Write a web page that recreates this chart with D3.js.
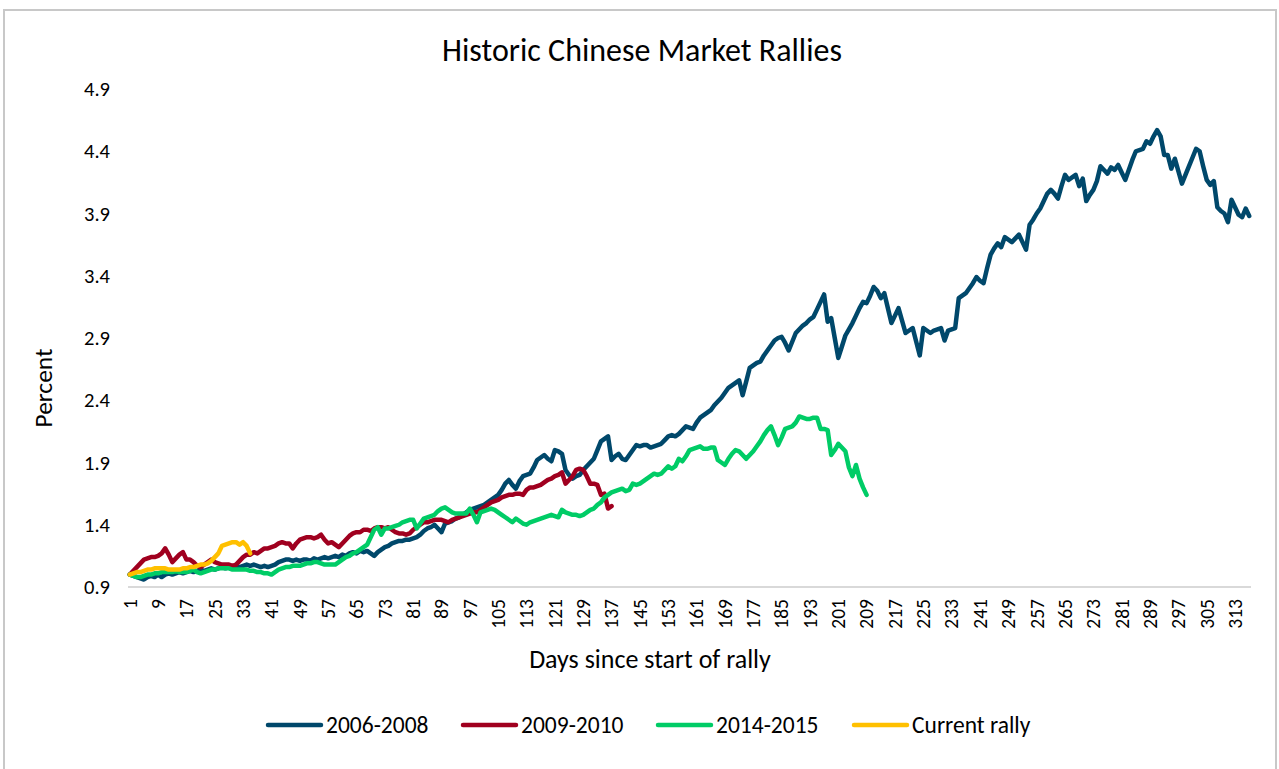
<!DOCTYPE html>
<html>
<head>
<meta charset="utf-8">
<script src="https://cdn.jsdelivr.net/npm/d3@7"></script>
<style>
body { margin: 0; background: #fff; }
text { font-family: Carlito, Calibri, "Noto Sans", sans-serif; fill: #000; }
</style>
</head>
<body>
<div id="chart-container"></div>
<script>
// values, one per trading day
var rally0608 = [
	1.00, 0.99, 0.98, 0.97, 0.96, 0.98, 0.99, 0.98, 1.00, 0.98,
	1.00, 1.01, 1.00, 1.01, 1.02, 1.01, 1.02, 1.03, 1.02, 1.03,
	1.04, 1.03, 1.04, 1.05, 1.04, 1.05, 1.06, 1.05, 1.06, 1.06,
	1.07, 1.06, 1.07, 1.08, 1.07, 1.08, 1.07, 1.06, 1.07, 1.06,
	1.07, 1.08, 1.10, 1.11, 1.12, 1.12, 1.11, 1.12, 1.11, 1.12,
	1.12, 1.11, 1.13, 1.12, 1.13, 1.14, 1.13, 1.14, 1.15, 1.14,
	1.16, 1.15, 1.17, 1.18, 1.17, 1.19, 1.18, 1.19, 1.17, 1.15,
	1.18, 1.20, 1.22, 1.23, 1.25, 1.26, 1.27, 1.27, 1.28, 1.28,
	1.29, 1.30, 1.32, 1.35, 1.37, 1.38, 1.40, 1.37, 1.34, 1.41,
	1.42, 1.43, 1.45, 1.46, 1.48, 1.50, 1.52, 1.53, 1.54, 1.55,
	1.56, 1.58, 1.60, 1.62, 1.64, 1.68, 1.73, 1.76, 1.72, 1.69,
	1.75, 1.79, 1.80, 1.81, 1.86, 1.92, 1.94, 1.96, 1.93, 1.91,
	2.00, 1.99, 1.97, 1.84, 1.80, 1.77, 1.79, 1.80, 1.84, 1.87,
	1.90, 1.93, 2.00, 2.07, 2.09, 2.11, 1.92, 1.95, 1.97, 1.93,
	1.92, 1.96, 2.00, 2.04, 2.03, 2.04, 2.04, 2.02, 2.03, 2.04,
	2.05, 2.08, 2.11, 2.12, 2.11, 2.13, 2.16, 2.19, 2.18, 2.17,
	2.22, 2.26, 2.28, 2.30, 2.32, 2.36, 2.39, 2.42, 2.46, 2.50,
	2.52, 2.54, 2.56, 2.44, 2.55, 2.66, 2.68, 2.70, 2.71, 2.76,
	2.80, 2.84, 2.88, 2.90, 2.91, 2.86, 2.80, 2.87, 2.94, 2.97,
	3.00, 3.02, 3.05, 3.07, 3.13, 3.19, 3.25, 3.03, 3.06, 2.90,
	2.74, 2.83, 2.92, 2.97, 3.02, 3.08, 3.14, 3.19, 3.18, 3.24,
	3.31, 3.28, 3.22, 3.26, 3.14, 3.02, 3.08, 3.14, 3.04, 2.94,
	2.96, 2.98, 2.87, 2.76, 2.98, 2.96, 2.94, 2.96, 2.97, 2.98,
	2.88, 2.96, 2.97, 2.98, 3.22, 3.24, 3.26, 3.30, 3.34, 3.39,
	3.36, 3.34, 3.46, 3.57, 3.62, 3.66, 3.63, 3.71, 3.69, 3.67,
	3.70, 3.73, 3.67, 3.61, 3.81, 3.85, 3.90, 3.94, 4.00, 4.06,
	4.09, 4.06, 4.02, 4.12, 4.21, 4.17, 4.19, 4.21, 4.12, 4.18,
	4.00, 4.05, 4.09, 4.16, 4.28, 4.25, 4.22, 4.27, 4.25, 4.29,
	4.23, 4.17, 4.25, 4.33, 4.40, 4.41, 4.42, 4.48, 4.46, 4.52,
	4.57, 4.52, 4.37, 4.37, 4.26, 4.34, 4.24, 4.14, 4.21, 4.28,
	4.35, 4.42, 4.40, 4.28, 4.17, 4.13, 4.16, 3.95, 3.92, 3.90,
	3.83, 4.01, 3.95, 3.89, 3.87, 3.94, 3.88
];

var rally0910 = [
	1.00, 1.03, 1.06, 1.09, 1.12, 1.13, 1.14, 1.14, 1.15, 1.17,
	1.21, 1.16, 1.10, 1.13, 1.16, 1.18, 1.12, 1.12, 1.10, 1.07,
	1.06, 1.08, 1.10, 1.12, 1.10, 1.09, 1.08, 1.08, 1.08, 1.07,
	1.08, 1.11, 1.14, 1.16, 1.16, 1.18, 1.17, 1.19, 1.21, 1.21,
	1.22, 1.23, 1.25, 1.26, 1.25, 1.25, 1.21, 1.25, 1.28, 1.29,
	1.30, 1.30, 1.29, 1.30, 1.32, 1.28, 1.25, 1.26, 1.24, 1.22,
	1.25, 1.28, 1.31, 1.33, 1.34, 1.34, 1.36, 1.36, 1.35, 1.37,
	1.38, 1.38, 1.37, 1.38, 1.36, 1.34, 1.33, 1.33, 1.32, 1.33,
	1.36, 1.38, 1.40, 1.42, 1.42, 1.43, 1.44, 1.44, 1.44, 1.43,
	1.42, 1.44, 1.45, 1.46, 1.47, 1.48, 1.49, 1.50, 1.50, 1.52,
	1.54, 1.56, 1.58, 1.59, 1.60, 1.62, 1.63, 1.64, 1.64, 1.65,
	1.65, 1.64, 1.68, 1.70, 1.70, 1.71, 1.72, 1.74, 1.76, 1.77,
	1.79, 1.80, 1.82, 1.73, 1.76, 1.79, 1.84, 1.85, 1.84, 1.79,
	1.73, 1.73, 1.72, 1.64, 1.65, 1.53, 1.55
];

var rally1415 = [
	1.00, 0.99, 0.98, 0.98, 0.99, 1.00, 1.00, 1.01, 1.01, 1.02,
	1.02, 1.02, 1.02, 1.03, 1.02, 1.02, 1.02, 1.03, 1.04, 1.02,
	1.01, 1.02, 1.03, 1.04, 1.04, 1.05, 1.05, 1.05, 1.05, 1.04,
	1.04, 1.04, 1.04, 1.04, 1.03, 1.03, 1.02, 1.02, 1.01, 1.01,
	1.00, 1.02, 1.04, 1.05, 1.06, 1.06, 1.07, 1.07, 1.07, 1.08,
	1.09, 1.09, 1.10, 1.10, 1.09, 1.08, 1.08, 1.08, 1.08, 1.10,
	1.12, 1.14, 1.15, 1.17, 1.18, 1.20, 1.22, 1.24, 1.30, 1.36,
	1.38, 1.32, 1.37, 1.37, 1.38, 1.39, 1.40, 1.42, 1.43, 1.44,
	1.44, 1.37, 1.41, 1.45, 1.46, 1.47, 1.48, 1.51, 1.53, 1.54,
	1.52, 1.50, 1.49, 1.49, 1.49, 1.49, 1.53, 1.48, 1.42, 1.50,
	1.51, 1.52, 1.53, 1.52, 1.50, 1.48, 1.46, 1.44, 1.42, 1.45,
	1.43, 1.41, 1.40, 1.42, 1.43, 1.44, 1.45, 1.46, 1.47, 1.48,
	1.47, 1.46, 1.52, 1.50, 1.49, 1.48, 1.48, 1.47, 1.48, 1.50,
	1.52, 1.53, 1.56, 1.58, 1.62, 1.64, 1.66, 1.67, 1.68, 1.69,
	1.67, 1.68, 1.73, 1.72, 1.73, 1.75, 1.77, 1.79, 1.81, 1.80,
	1.81, 1.84, 1.87, 1.85, 1.87, 1.93, 1.91, 1.95, 2.00, 2.01,
	2.02, 2.03, 2.01, 2.01, 2.02, 2.02, 1.92, 1.90, 1.88, 1.93,
	1.97, 2.00, 1.99, 1.96, 1.93, 1.96, 1.99, 2.03, 2.07, 2.12,
	2.16, 2.19, 2.12, 2.04, 2.10, 2.17, 2.18, 2.19, 2.22, 2.27,
	2.26, 2.25, 2.25, 2.26, 2.26, 2.17, 2.17, 2.16, 1.96, 2.00,
	2.05, 2.02, 1.99, 1.86, 1.79, 1.88, 1.77, 1.70, 1.64
];

var rallyCurrent = [
	1.00, 1.01, 1.02, 1.02, 1.03, 1.04, 1.04, 1.05, 1.05, 1.05,
	1.05, 1.04, 1.04, 1.04, 1.04, 1.05, 1.05, 1.06, 1.06, 1.07,
	1.08, 1.08, 1.09, 1.11, 1.14, 1.17, 1.23, 1.24, 1.25, 1.26,
	1.26, 1.24, 1.26, 1.23, 1.17
];

var seriesNames = ['2006-2008', '2009-2010', '2014-2015', 'Current rally'];
var seriesColors = ['#00486b', '#a0001f', '#00cc66', '#ffc000'];
var yTicks = [0.9, 1.4, 1.9, 2.4, 2.9, 3.4, 3.9, 4.4, 4.9];
var days = d3.range(1, 318); // category axis 1..317

var allSeries = [rally0608, rally0910, rally1415, rallyCurrent];

var W = 1279, H = 769;
var plot = { left: 128, right: 1251, top: 89, bottom: 587 };

var svg = d3.select('#chart-container').append('svg')
	.attr('width', W)
	.attr('height', H);

// chart frame
svg.append('rect')
	.attr('x', 4).attr('y', 10)
	.attr('width', 1272).attr('height', 780)
	.attr('fill', '#fff')
	.attr('stroke', '#c8c8c8')
	.attr('stroke-width', 2);

var x = d3.scaleBand().domain(days).range([plot.left, plot.right]);
var y = d3.scaleLinear().domain([0.9, 4.9]).range([plot.bottom, plot.top]);

// title
svg.append('text')
	.attr('x', 642).attr('y', 61)
	.attr('text-anchor', 'middle')
	.style('font-size', '32px')
	.text('Historic Chinese Market Rallies');

// y axis, labels only
var yAxis = d3.axisLeft(y).tickValues(yTicks).tickSize(0).tickPadding(0)
	.tickFormat(d3.format('.1f'));
var gy = svg.append('g')
	.attr('transform', 'translate(110,0)')
	.call(yAxis);
gy.select('.domain').remove();
gy.selectAll('text').style('font-size', '20.5px');

// x axis
var xAxis = d3.axisBottom(x)
	.tickValues(days.filter(function(d) { return (d - 1) % 8 === 0; }))
	.tickSize(0);
var gx = svg.append('g')
	.attr('transform', 'translate(0,' + plot.bottom + ')')
	.call(xAxis);
gx.select('.domain').attr('stroke', '#d9d9d9').attr('stroke-width', 2)
	.attr('d', 'M' + plot.left + ',0H' + plot.right);
gx.selectAll('text')
	.style('font-size', '19.5px')
	.attr('text-anchor', 'end')
	.attr('transform', 'rotate(-90)')
	.attr('x', -12)
	.attr('y', 0)
	.attr('dy', '0.35em');

// axis titles
svg.append('text')
	.attr('transform', 'translate(52,388) rotate(-90)')
	.attr('text-anchor', 'middle')
	.style('font-size', '25.5px')
	.text('Percent');

svg.append('text')
	.attr('x', 650).attr('y', 668)
	.attr('text-anchor', 'middle')
	.style('font-size', '26px')
	.text('Days since start of rally');

// lines
var line = d3.line()
	.x(function(d, i) { return x(days[i]) + x.bandwidth() / 2; })
	.y(function(d) { return y(d); });

svg.selectAll('.series')
	.data(allSeries)
	.enter()
	.append('path')
	.attr('class', 'series')
	.attr('fill', 'none')
	.attr('stroke', function(d, i) { return seriesColors[i]; })
	.attr('stroke-width', 4.5)
	.attr('stroke-linejoin', 'round')
	.attr('stroke-linecap', 'round')
	.attr('d', line);

// legend
var legendX = [268, 463, 658, 854];
var legend = svg.selectAll('.legend')
	.data(seriesNames)
	.enter()
	.append('g')
	.attr('class', 'legend')
	.attr('transform', function(d, i) { return 'translate(' + legendX[i] + ',725)'; });

legend.append('line')
	.attr('x1', 0).attr('x2', 53)
	.attr('stroke', function(d, i) { return seriesColors[i]; })
	.attr('stroke-width', 4.5)
	.attr('stroke-linecap', 'round');

legend.append('text')
	.attr('x', 58)
	.attr('dy', '0.35em')
	.style('font-size', '23.5px')
	.text(function(d) { return d; });
</script>
</body>
</html>
